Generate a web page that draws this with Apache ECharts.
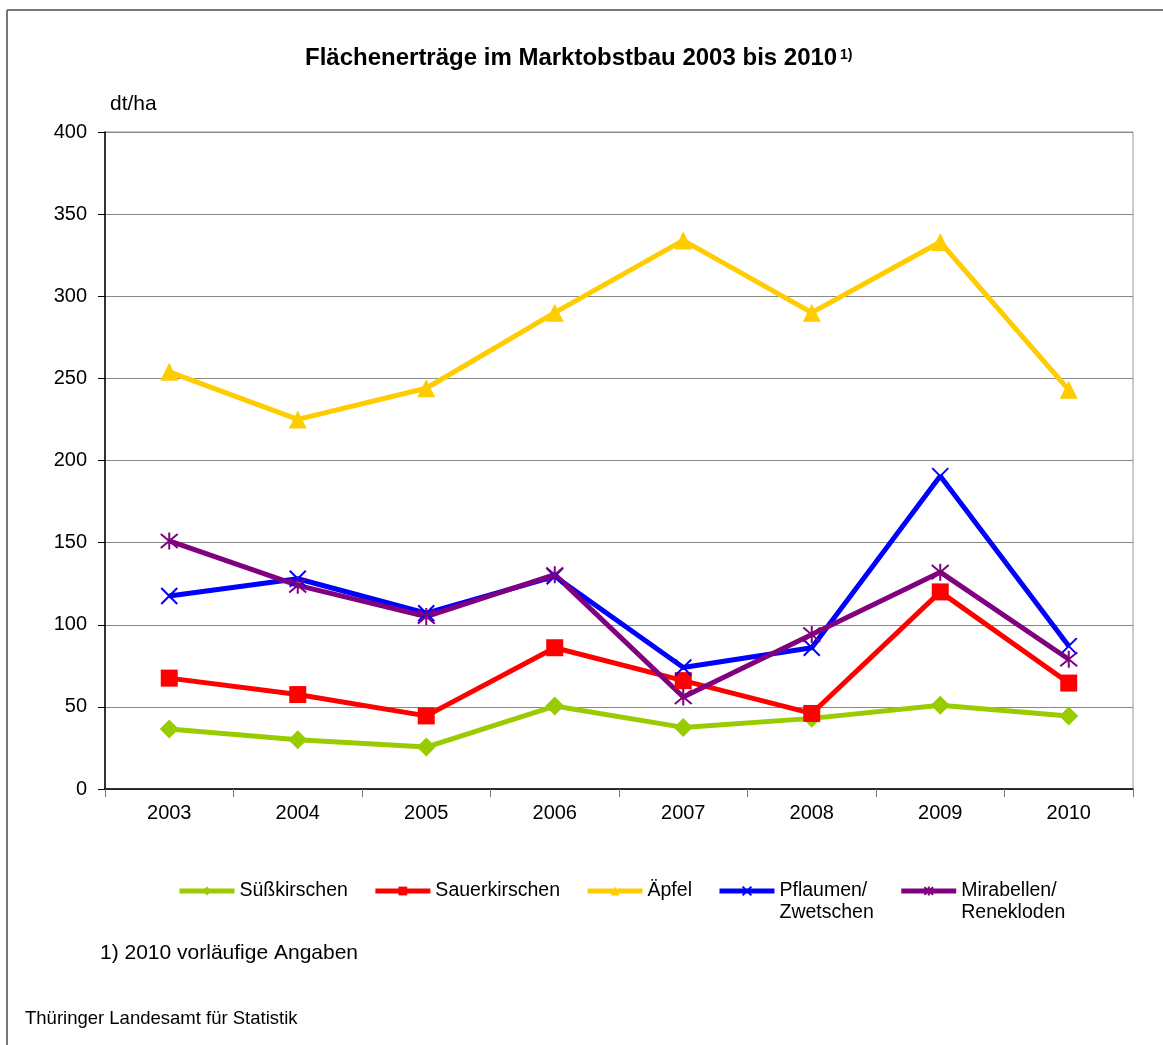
<!DOCTYPE html>
<html><head><meta charset="utf-8">
<script src="https://cdn.jsdelivr.net/npm/echarts@6/dist/echarts.min.js"></script>
<style>html,body{margin:0;padding:0;background:#fff}#c{width:1163px;height:1045px}</style>
</head><body><div id="c"></div>
<script>
const years = ['2003','2004','2005','2006','2007','2008','2009','2010'];
const suesskirschen = [36.5, 30, 25.5, 50.5, 37.5, 43, 51, 44.5];
const sauerkirschen = [67.5, 57.5, 44.5, 86, 66, 46, 120, 64.5];
const aepfel = [254, 225, 244, 290, 334, 290, 333, 243];
const pflaumen = [117.5, 128, 107, 129.5, 74, 86, 190.5, 87];
const mirabellen = [151, 124, 105, 130.5, 56, 94, 132, 79];
const seriesNames = ['Süßkirschen','Sauerkirschen','Äpfel','Pflaumen/\nZwetschen','Mirabellen/\nRenekloden'];

const FONT = 'Liberation Sans, Arial, sans-serif';
const chart = echarts.init(document.getElementById('c'), null, {renderer:'canvas'});
const X = 'path://M0,0L10,10M10,0L0,10';
const STAR = 'path://M0,0L10,10M10,0L0,10M5,-1L5,11';
function mk(name, data, color, symbol, size, extra) {
  return Object.assign({
    name, type:'line', data, symbol, symbolSize:size, showSymbol:true,
    lineStyle:{color, width:5}, itemStyle:{color, borderColor:color, borderWidth:0},
    animation:false, z:2
  }, extra||{});
}
const option = {
  animation:false,
  textStyle:{fontFamily:FONT},
  grid:{left:105, right:30, top:132, bottom:256, show:true, borderColor:'#999', borderWidth:1, backgroundColor:'transparent'},
  xAxis:{type:'category', data:years, boundaryGap:true,
    axisLine:{lineStyle:{color:'#000', width:1.5}},
    axisTick:{show:true, alignWithLabel:false, length:8, lineStyle:{color:'#777'}},
    axisLabel:{fontSize:20, color:'#000', margin:14, fontFamily:FONT}},
  yAxis:{type:'value', min:0, max:400, interval:50,
    axisLine:{show:true, lineStyle:{color:'#000', width:1.5}},
    axisTick:{show:true, length:7, lineStyle:{color:'#000'}},
    splitLine:{lineStyle:{color:'#888', width:1}},
    axisLabel:{fontSize:20, color:'#000', margin:18, fontFamily:FONT}},
  legend:{left:172, top:853, itemWidth:55, itemHeight:11, itemGap:25,
    lineStyle:{width:5},
    formatter: n => n.indexOf('\n') >= 0 ? '\n' + n : n,
    textStyle:{fontSize:19.5, color:'#000', fontFamily:FONT, lineHeight:22},
    data:seriesNames},
  series:[
    mk(seriesNames[0], suesskirschen, '#99cc00', 'diamond', 19),
    mk(seriesNames[1], sauerkirschen, '#ff0000', 'rect', 17),
    mk(seriesNames[2], aepfel, '#ffcc00', 'triangle', 18),
    mk(seriesNames[3], pflaumen, '#0000ff', X, 16, {itemStyle:{color:'#0000ff', borderColor:'#0000ff', borderWidth:2}}),
    mk(seriesNames[4], mirabellen, '#800080', STAR, 17, {itemStyle:{color:'#800080', borderColor:'#800080', borderWidth:2}})
  ],
  graphic:[
    {type:'line', shape:{x1:7, y1:10, x2:7, y2:1045}, style:{stroke:'#777', lineWidth:2}},
    {type:'line', shape:{x1:7, y1:10, x2:1163, y2:10}, style:{stroke:'#777', lineWidth:2}},
    {type:'text', left:305, top:46, style:{text:'Flächenerträge im Marktobstbau 2003 bis 2010', font:'bold 24px '+FONT, fill:'#000'}},
    {type:'text', left:840, top:48, style:{text:'1)', font:'bold 14px '+FONT, fill:'#000'}},
    {type:'text', left:110, top:94, style:{text:'dt/ha', font:'21px '+FONT, fill:'#000'}},
    {type:'text', left:100, top:943, style:{text:'1) 2010 vorläufige Angaben', font:'21px '+FONT, fill:'#000'}},
    {type:'text', left:25, top:1009, style:{text:'Thüringer Landesamt für Statistik', font:'18.5px '+FONT, fill:'#000'}}
  ]
};
chart.setOption(option);
</script></body></html>
